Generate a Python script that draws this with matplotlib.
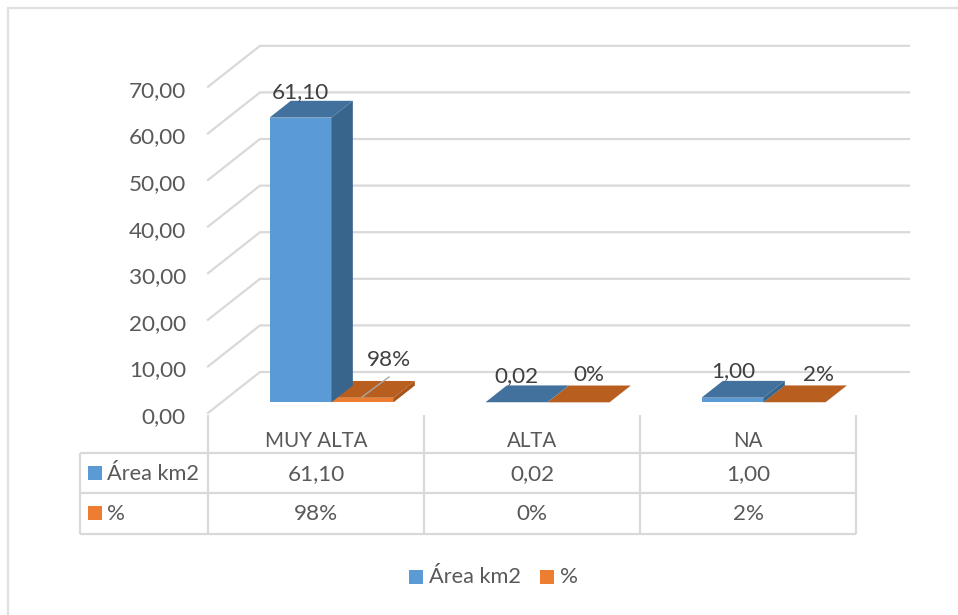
import matplotlib
matplotlib.use("Agg")
import matplotlib.pyplot as plt
from matplotlib.patches import Polygon, Rectangle

plt.rcParams['font.family'] = ['Lato', 'DejaVu Sans']

categories = ["MUY ALTA", "ALTA", "NA"]
series_names = ["Área km2", "%"]
area_km2 = [61.10, 0.02, 1.00]
porcentaje = [0.98, 0.00, 0.02]
area_labels = ["61,10", "0,02", "1,00"]
pct_labels = ["98%", "0%", "2%"]
y_ticks = [0, 10, 20, 30, 40, 50, 60, 70]
y_tick_labels = ["0,00", "10,00", "20,00", "30,00", "40,00", "50,00", "60,00", "70,00"]

W, H = 958, 615
BLUE, BLUE_TOP, BLUE_SIDE = "#5B9BD5", "#41719C", "#38658C"
ORANGE, ORANGE_TOP, ORANGE_SIDE = "#ED7D31", "#B85F1F", "#A8551A"
GRID = "#D9D9D9"
TXT = "#595959"
LBL = "#404040"
FS = 16.2
FS_WORD = 15.7
FS_CAT = 14.8

fig = plt.figure(figsize=(W / 100, H / 100), dpi=100)
ax = fig.add_axes([0, 0, 1, 1])

# x in categories, y in chart units, pixel scale below
PX_CAT = 216.0
PX_VAL = 4.66
X0, Y0 = 208, 413   # pixel of front floor corner
ax.set_xlim(-X0 / PX_CAT, (W - X0) / PX_CAT)
ax.set_ylim(-(H - Y0) / PX_VAL, Y0 / PX_VAL)
ax.axis("off")

DX = 52 / PX_CAT    # depth offset, in data units
DY = 41 / PX_VAL


def proj(x, v, d):
    return (x + d * DX, v + d * DY)


def px(xp, yp):
    # pixel position, for the frame and the table
    return ((xp - X0) / PX_CAT, (Y0 - yp) / PX_VAL)


def hline(yp, x1, x2, lw=1.6, color=GRID):
    a, b = px(x1, yp), px(x2, yp)
    ax.plot([a[0], b[0]], [a[1], b[1]], color=color, lw=lw, solid_capstyle="butt", zorder=1)


def vline(xp, y1, y2, lw=1.6, color=GRID):
    a, b = px(xp, y1), px(xp, y2)
    ax.plot([a[0], b[0]], [a[1], b[1]], color=color, lw=lw, solid_capstyle="butt", zorder=1)


def box(x, w, v, d1, d2, front, top, side):
    ax.add_patch(Polygon([proj(x, 0, d1), proj(x + w, 0, d1), proj(x + w, v, d1), proj(x, v, d1)],
                         fc=front, ec="none", zorder=3))
    ax.add_patch(Polygon([proj(x, v, d1), proj(x + w, v, d1), proj(x + w, v, d2), proj(x, v, d2)],
                         fc=top, ec="none", zorder=3))
    ax.add_patch(Polygon([proj(x + w, 0, d1), proj(x + w, 0, d2), proj(x + w, v, d2), proj(x + w, v, d1)],
                         fc=side, ec="none", zorder=3))


# outer frame: top and left only, the picture is cut on the other sides
hline(8, 7, 958, lw=1.6, color="#E0E0E0")
vline(8, 8, 615, lw=1.6, color="#E0E0E0")

# walls
for t, lab in zip(y_ticks, y_tick_labels):
    a = proj(0, t, 0)
    b = proj(0, t, 1)
    c = proj(3, t, 1)
    c = (px(909, 0)[0], c[1])
    ax.plot([a[0], b[0], c[0]], [a[1], b[1], c[1]], color=GRID, lw=1.6, zorder=1)
    ax.text(a[0] - 22 / PX_CAT, a[1] - 4 / PX_VAL, lab, ha="right", va="center", fontsize=FS, color=TXT)

# bars
BAR_W = 62 / PX_CAT
OFF = 48 / PX_CAT
D1, D2 = 0.26, 0.67
for i in range(3):
    x = i + OFF
    box(x + BAR_W, BAR_W, porcentaje[i], D1, D2, ORANGE, ORANGE_TOP, ORANGE_SIDE)
    box(x, BAR_W, area_km2[i], D1, D2, BLUE, BLUE_TOP, BLUE_SIDE)

# leader line of the 98% label
a, b = px(362, 397), px(389, 377)
ax.plot([a[0], b[0]], [a[1], b[1]], color="#A6A6A6", lw=1.0, zorder=4)

# data labels
area_pos = [(300, 92), (516, 376), (733, 371)]
pct_pos = [(389, 360), (589, 375), (818, 375)]
for lab, p in zip(area_labels, area_pos):
    ax.text(*px(*p), lab, ha="center", va="center", fontsize=FS, color=LBL, zorder=5)
for lab, p in zip(pct_labels, pct_pos):
    ax.text(*px(*p), lab, ha="center", va="center", fontsize=FS, color=LBL, zorder=5)

# data table
for yp in (453, 493, 534):
    hline(yp, 80, 856)
vline(80, 453, 534)
for xp in (208, 424, 640, 856):
    vline(xp, 415, 534)
for i, c in enumerate(categories):
    ax.text(*px(316 + 216 * i, 441), c, ha="center", va="center", fontsize=FS_CAT, color=TXT)
    ax.text(*px(316 + 216 * i, 474), area_labels[i], ha="center", va="center", fontsize=FS, color=TXT)
    ax.text(*px(316 + 216 * i, 514), pct_labels[i], ha="center", va="center", fontsize=FS, color=TXT)


def swatch(xp, yp, s, color):
    a = px(xp, yp + s)
    ax.add_patch(Rectangle(a, s / PX_CAT, s / PX_VAL, fc=color, ec="none", zorder=3))


swatch(88, 466, 14, BLUE)
swatch(88, 506, 14, ORANGE)
ax.text(*px(107, 474), series_names[0], ha="left", va="center", fontsize=FS_WORD, color=TXT)
ax.text(*px(107, 514), series_names[1], ha="left", va="center", fontsize=FS, color=TXT)

# legend
swatch(409, 570, 14, BLUE)
swatch(540, 570, 14, ORANGE)
ax.text(*px(429, 577), series_names[0], ha="left", va="center", fontsize=FS_WORD, color=TXT)
ax.text(*px(560, 577), series_names[1], ha="left", va="center", fontsize=FS, color=TXT)

fig.savefig("out.png", dpi=100)
